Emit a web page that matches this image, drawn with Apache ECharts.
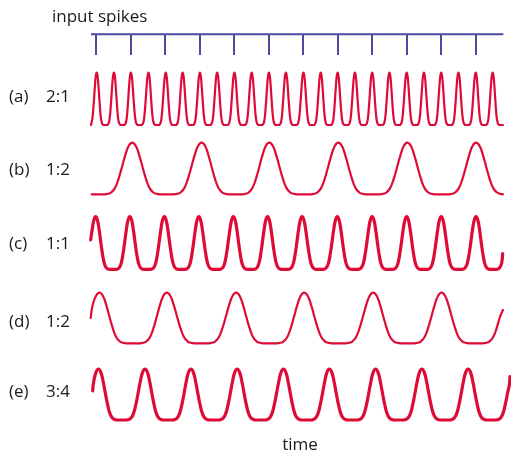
<!DOCTYPE html>
<html>
<head>
<meta charset="utf-8">
<script src="https://cdn.jsdelivr.net/npm/echarts@6/dist/echarts.min.js"></script>
<style>html,body{margin:0;padding:0;background:#fff}#c{width:511px;height:457px}</style>
</head>
<body>
<div id="c"></div>
<script>
// ---- data (time measured in input-spike periods) ----
const spikeTimes = [0, 1, 2, 3, 4, 5, 6, 7, 8, 9, 10, 11];
const spikeSpan = [-0.145, 11.80];

const rowLabels = ['(a)', '(b)', '(c)', '(d)', '(e)'];
const ratioLabels = ['2:1', '1:2', '1:1', '1:2', '3:4'];

// peak times of each response trace
const peaksA = [0.02, 0.52, 1.01, 1.52, 2.02, 2.51, 3.01, 3.51, 4.01, 4.51, 5.01, 5.50,
                6.01, 6.51, 7.00, 7.50, 8.00, 8.50, 9.00, 9.50, 10.00, 10.50, 11.00, 11.49];
const peaksB = [1.05, 3.06, 5.02, 7.02, 9.02, 11.01];
const peaksC = [-0.01, 0.98, 1.98, 2.98, 3.98, 4.97, 5.97, 6.99, 8.00, 9.00, 10.00, 11.01, 12.00];
const peaksD = [0.10, 2.05, 4.06, 6.03, 8.03, 10.01, 12.00];
const peaksE = [0.07, 1.42, 2.75, 4.09, 5.43, 6.76, 8.10, 9.44, 10.78, 12.12];

// trace start / end points [time, level]
const startA = [-0.145, 0],  endA = [11.79, 0];
const startB = [-0.125, 0],  endB = [11.79, 0];
const startC = [-0.154, 0.56], endC = [11.78, 0.30];
const startD = [-0.154, 0.50], endD = [11.79, 0.66];
const startE = [-0.096, 0.57], endE = [11.99, 0.85];

// one cycle of the pulse shape (phase relative to peak, level 0..1)
const shapePhase = [-0.5, -0.45, -0.4, -0.35, -0.3, -0.25, -0.2, -0.15, -0.1, -0.05, 0,
                    0.05, 0.1, 0.15, 0.2, 0.25, 0.3, 0.35, 0.4, 0.45];
const shapeLevel = [0, 0, 0, 0.01, 0.04, 0.12, 0.29, 0.52, 0.76, 0.94, 1,
                    0.94, 0.76, 0.52, 0.29, 0.12, 0.04, 0.01, 0, 0];

// ---- layout / style ----
const X0 = 96, PX_PER_T = 34.52;
const RED = '#de0b36', BLUE = '#4a4aa2';
const FONT = '17px "Open Sans", "Noto Sans", sans-serif';
const rows = [
  {peaks: peaksA, start: startA, end: endA, top: 72.7, bottom: 125, width: 2.2, labelY: 97.5},
  {peaks: peaksB, start: startB, end: endB, top: 142.7, bottom: 194.3, width: 2.2, labelY: 170},
  {peaks: peaksC, start: startC, end: endC, top: 216.7, bottom: 269.3, width: 3.2, labelY: 244},
  {peaks: peaksD, start: startD, end: endD, top: 292.7, bottom: 343.3, width: 2.2, labelY: 322.5},
  {peaks: peaksE, start: startE, end: endE, top: 369, bottom: 420, width: 3.2, labelY: 391.7}
];

function buildTrace(peaks, start, end) {
  const pts = [start.slice()];
  for (let i = 0; i < peaks.length; i++) {
    const prevGap = i > 0 ? peaks[i] - peaks[i - 1] : peaks[1] - peaks[0];
    const nextGap = i < peaks.length - 1 ? peaks[i + 1] - peaks[i] : peaks[i] - peaks[i - 1];
    for (let k = 0; k < shapePhase.length; k++) {
      const p = shapePhase[k];
      const t = peaks[i] + p * (p < 0 ? prevGap : nextGap);
      if (t > start[0] && t < end[0]) pts.push([t, shapeLevel[k]]);
    }
  }
  pts.push(end.slice());
  pts.sort((a, b) => a[0] - b[0]);
  return pts;
}

const grids = [], xAxes = [], yAxes = [], series = [];
function addGrid(tMin, tMax, top, height) {
  grids.push({left: X0 + tMin * PX_PER_T, width: (tMax - tMin) * PX_PER_T, top: top, height: height});
  const idx = grids.length - 1;
  xAxes.push({type: 'value', gridIndex: idx, min: tMin, max: tMax, show: false});
  yAxes.push({type: 'value', gridIndex: idx, min: 0, max: 1, show: false});
  return idx;
}

// spikes
const gS = addGrid(spikeSpan[0], spikeSpan[1], 34.3, 20.7);
series.push({
  type: 'line', xAxisIndex: gS, yAxisIndex: gS, data: [[spikeSpan[0], 1], [spikeSpan[1], 1]],
  symbol: 'none', lineStyle: {color: BLUE, width: 2}, clip: false, silent: true
});
series.push({
  type: 'lines', coordinateSystem: 'cartesian2d', xAxisIndex: gS, yAxisIndex: gS,
  data: spikeTimes.map(s => ({coords: [[s, 1], [s, 0]]})),
  lineStyle: {color: BLUE, width: 2, opacity: 1}, silent: true
});

rows.forEach(r => {
  const g = addGrid(r.start[0], r.end[0], r.top, r.bottom - r.top);
  series.push({
    type: 'line', xAxisIndex: g, yAxisIndex: g, data: buildTrace(r.peaks, r.start, r.end),
    symbol: 'none', smooth: 0.5, clip: false, silent: true,
    lineStyle: {color: RED, width: r.width, cap: 'round', join: 'round'}
  });
});

const graphics = [
  {type: 'text', x: 52, y: 17, style: {text: 'input spikes', font: FONT, fill: '#1a1a1a', verticalAlign: 'middle'}},
  {type: 'text', x: 300, y: 445, style: {text: 'time', font: FONT, fill: '#1a1a1a', align: 'center', verticalAlign: 'middle'}}
];
rows.forEach((r, i) => {
  graphics.push({type: 'text', x: 9, y: r.labelY, style: {text: rowLabels[i], font: FONT, fill: '#1a1a1a', verticalAlign: 'middle'}});
  graphics.push({type: 'text', x: 46, y: r.labelY, style: {text: ratioLabels[i], font: FONT, fill: '#1a1a1a', verticalAlign: 'middle'}});
});

const chart = echarts.init(document.getElementById('c'), null, {renderer: 'canvas'});
chart.setOption({
  animation: false,
  grid: grids, xAxis: xAxes, yAxis: yAxes, series: series, graphic: graphics
});
</script>
</body>
</html>
